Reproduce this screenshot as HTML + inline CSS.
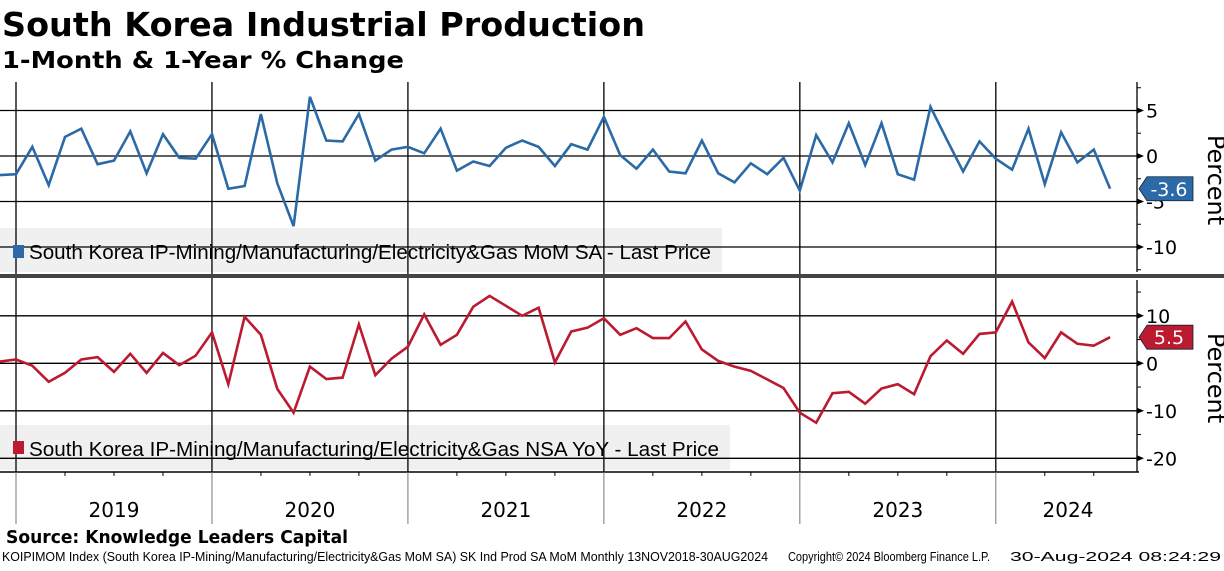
<!DOCTYPE html>
<html><head><meta charset="utf-8"><style>
body{margin:0;width:1224px;height:566px;background:#fff;overflow:hidden;font-family:"Liberation Sans",sans-serif}
svg text{font-family:"DejaVu Sans","Liberation Sans",sans-serif}
svg text.ls{font-family:"Liberation Sans",sans-serif}
</style></head><body>
<svg id="c" width="1224" height="566" viewBox="0 0 1224 566">
<text x="2" y="36" font-size="33" font-weight="bold" fill="#000" textLength="643" lengthAdjust="spacingAndGlyphs">South Korea Industrial Production</text>
<text x="2" y="68" font-size="23" font-weight="bold" fill="#000" textLength="402" lengthAdjust="spacingAndGlyphs">1-Month &amp; 1-Year % Change</text>
<rect x="0" y="228" width="722" height="44" fill="#f0f0f0"/>
<rect x="0" y="425" width="730" height="45" fill="#f0f0f0"/>
<g id="grid"></g>
<rect x="13" y="245" width="11" height="13" fill="#2b6aa6"/>
<text class="ls" x="29" y="259" font-size="20" fill="#000" textLength="682" lengthAdjust="spacingAndGlyphs">South Korea IP-Mining/Manufacturing/Electricity&amp;Gas MoM SA - Last Price</text>
<rect x="13" y="441" width="11" height="13" fill="#bb1a30"/>
<text class="ls" x="29" y="456" font-size="20" fill="#000" textLength="690" lengthAdjust="spacingAndGlyphs">South Korea IP-Mining/Manufacturing/Electricity&amp;Gas NSA YoY - Last Price</text>
<g id="lines"></g>
<rect x="0" y="274" width="1224" height="4" fill="#444"/>
<text x="6" y="543" font-size="18" font-weight="bold" fill="#000" textLength="342" lengthAdjust="spacingAndGlyphs">Source: Knowledge Leaders Capital</text>
<text class="ls" x="2" y="561" font-size="13" fill="#000" textLength="766" lengthAdjust="spacingAndGlyphs">KOIPIMOM Index (South Korea IP-Mining/Manufacturing/Electricity&amp;Gas MoM SA) SK Ind Prod SA MoM  Monthly 13NOV2018-30AUG2024</text>
<text class="ls" x="788" y="561" font-size="13" fill="#000" textLength="202" lengthAdjust="spacingAndGlyphs">Copyright© 2024 Bloomberg Finance L.P.</text>
<text class="ls" x="1010" y="561" font-size="13" fill="#000" textLength="211" lengthAdjust="spacingAndGlyphs">30-Aug-2024 08:24:29</text>
</svg>
<script>
const years = ["2019","2020","2021","2022","2023","2024"];
const momValues = [-2.1,-2.0,1.0,-3.2,2.1,3.0,-0.9,-0.5,2.7,-1.9,2.4,-0.2,-0.3,
 2.4,-3.6,-3.3,4.6,-3.0,-7.7,6.5,1.7,1.6,4.6,-0.5,0.7,
 1.0,0.3,3.0,-1.6,-0.6,-1.1,0.9,1.7,1.0,-1.1,1.3,0.7,
 4.3,0.1,-1.4,0.7,-1.7,-1.9,1.7,-1.9,-2.9,-0.8,-2.0,-0.2,
 -3.8,2.3,-0.7,3.6,-1.0,3.6,-2.0,-2.6,5.4,1.8,-1.7,1.6,
 -0.3,-1.5,3.0,-3.1,2.6,-0.7,0.7,-3.6];
const yoyValues = [0.35,0.8,-0.5,-3.9,-2.0,0.8,1.3,-1.8,2.0,-2.0,2.2,-0.4,1.6,
 6.5,-4.4,9.8,6.0,-5.4,-10.4,-0.7,-3.3,-3.0,8.2,-2.5,1.0,
 3.5,10.3,3.9,6.0,11.9,14.2,12.1,10.0,11.7,0.2,6.7,7.5,
 9.5,6.0,7.4,5.3,5.3,8.8,2.9,0.5,-0.7,-1.6,-3.4,-5.2,
 -10.4,-12.5,-6.3,-6.0,-8.5,-5.3,-4.4,-6.5,1.5,4.8,2.0,6.2,
 6.5,13.0,4.4,1.1,6.5,4.1,3.7,5.5];
const momTicks = [5,0,-5,-10];
const yoyTicks = [10,0,-10,-20];

const svg=document.getElementById('c');
const NS='http://www.w3.org/2000/svg';
const g=document.getElementById('grid'), L=document.getElementById('lines');
const X0=16, MW=16.33, AX=1137;
function xAt(i){return X0+(i-1)*MW;}
function yTop(v){return 156-v*9.1;}
function yBot(v){return 363.3-v*4.75;}
function mk(tag,attrs,parent){const e=document.createElementNS(NS,tag);for(const k in attrs)e.setAttribute(k,attrs[k]);(parent||svg).appendChild(e);return e;}

momTicks.forEach(t=>{
 const l=mk('line',{x1:0,x2:AX,y1:yTop(t),y2:yTop(t),stroke:'#000','stroke-width':1.3},g);
 
 
 const tx=mk('text',{x:1146,y:yTop(t)+7,'font-size':19,fill:'#000'},g);
 tx.textContent=String(t);
 
 
 mk('path',{d:`M${AX},${yTop(t)-3}L${AX+7},${yTop(t)}L${AX},${yTop(t)+3}Z`,fill:'#000'},g);
});
yoyTicks.forEach(t=>{
 const l=mk('line',{x1:0,x2:AX,y1:yBot(t),y2:yBot(t),stroke:'#000','stroke-width':1.3},g);
 
 
 const tx=mk('text',{x:1146,y:yBot(t)+7,'font-size':19,fill:'#000'},g);
 tx.textContent=String(t);
 
 
 mk('path',{d:`M${AX},${yBot(t)-3}L${AX+7},${yBot(t)}L${AX},${yBot(t)+3}Z`,fill:'#000'},g);
});
[7.5,2.5,-2.5,-7.5,-12.5].forEach(t=>{if(yTop(t)>82&&yTop(t)<272)mk('line',{x1:AX,x2:AX+4,y1:yTop(t),y2:yTop(t),stroke:'#000'},g);});
[15,5,-5,-15].forEach(t=>mk('line',{x1:AX,x2:AX+4,y1:yBot(t),y2:yBot(t),stroke:'#000'},g));
mk('line',{x1:AX,x2:AX,y1:82,y2:272,stroke:'#000','stroke-width':1.3},g);
mk('line',{x1:AX,x2:AX,y1:280,y2:472,stroke:'#000','stroke-width':1.3},g);
mk('line',{x1:0,x2:AX+2,y1:472,y2:472,stroke:'#000','stroke-width':1.5},g);
years.forEach((y,k)=>{
 const x=xAt(1+12*k);
 const vl=mk('line',{x1:x,x2:x,y1:82,y2:472,stroke:'#000','stroke-width':1.3},g);
 
 
 mk('line',{x1:x,x2:x,y1:472,y2:524,stroke:'#777','stroke-width':1},g);
 for(let m=1;m<12;m++){const mx=xAt(1+12*k+m);if(mx<AX&&m%3==0)mk('line',{x1:mx,x2:mx,y1:472,y2:476,stroke:'#000'},g);}
 const t=mk('text',{x:(k==5?1068:x+98),y:517,'font-size':20,'text-anchor':'middle',fill:'#000'},g);
 t.textContent=y;
 
 
});
[[1208,180],[1208,378]].forEach(([x,y])=>{
 const t=mk('text',{x:x,y:y,'font-size':24,'text-anchor':'middle',fill:'#000',transform:`rotate(90 ${x} ${y})`},g);
 t.textContent='Percent';
 
 
});
const l1=mk('path',{d:momValues.map((v,i)=>`${i?'L':'M'}${xAt(i).toFixed(1)},${yTop(v).toFixed(1)}`).join(''),fill:'none',stroke:'#2b6aa6','stroke-width':2.6},L);


const l2=mk('path',{d:yoyValues.map((v,i)=>`${i?'L':'M'}${xAt(i).toFixed(1)},${yBot(v).toFixed(1)}`).join(''),fill:'none',stroke:'#bb1a30','stroke-width':2.6},L);


function tag(y,txt,col,name){
 const gg=mk('g',{},L);
 
 
 mk('path',{d:`M1139,${y}L1147,${y-12}L1193,${y-12}L1193,${y+12}L1147,${y+12}Z`,fill:col,stroke:'#123',"stroke-width":0.8},gg);
 const t=mk('text',{x:1169,y:y+7,'font-size':19,'text-anchor':'middle',fill:'#fff'},gg);
 t.textContent=txt;
}
tag(yTop(momValues[momValues.length-1]),momValues[momValues.length-1].toFixed(1),'#2b6aa6','mom-last-value-tag');
tag(yBot(yoyValues[yoyValues.length-1]),yoyValues[yoyValues.length-1].toFixed(1),'#bb1a30','yoy-last-value-tag');
</script>
</body></html>
